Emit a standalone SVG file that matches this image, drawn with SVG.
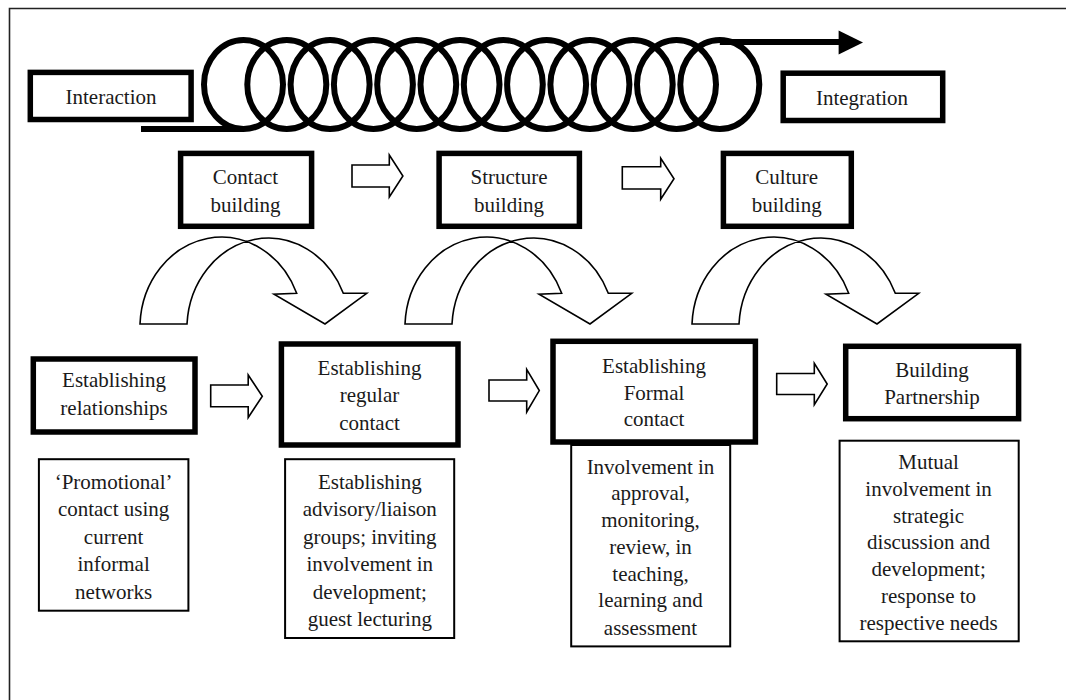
<svg xmlns="http://www.w3.org/2000/svg" xmlns:xlink="http://www.w3.org/1999/xlink" width="1066" height="700" viewBox="0 0 1066 700">
<style>
text{font-family:"Liberation Serif","Times New Roman",serif;font-size:21px;fill:#1a1a1a;text-anchor:middle}
.thick{fill:#fff;stroke:#000;stroke-width:5.5}
.thin{fill:#fff;stroke:#000;stroke-width:2}
.hollow{fill:#fff;stroke:#000;stroke-width:1.6;stroke-linejoin:miter}
.coil{fill:none;stroke:#000;stroke-width:6}
</style>
<defs>
<path id="curv" d="M140,324 L187,324 A81.5,91 0 0 1 343.3,293.3 L366.7,293.3 L325,324 L274,294.3 L296.7,293.3 A81.5,91 0 0 0 140,324 Z"/>
</defs>
<rect x="0" y="0" width="1066" height="700" fill="#fff"/>
<path d="M9.5,700 V8.5 H1066" fill="none" stroke="#222" stroke-width="1.6"/>

<g id="connectors">
  <g id="coil">
    <line x1="141" y1="129" x2="243.5" y2="129" class="coil"/>
    <ellipse cx="243.5" cy="84.5" rx="39.5" ry="44.5" class="coil"/>
    <ellipse cx="286.8" cy="84.5" rx="39.5" ry="44.5" class="coil"/>
    <ellipse cx="330.1" cy="84.5" rx="39.5" ry="44.5" class="coil"/>
    <ellipse cx="373.4" cy="84.5" rx="39.5" ry="44.5" class="coil"/>
    <ellipse cx="416.7" cy="84.5" rx="39.5" ry="44.5" class="coil"/>
    <ellipse cx="460" cy="84.5" rx="39.5" ry="44.5" class="coil"/>
    <ellipse cx="503.3" cy="84.5" rx="39.5" ry="44.5" class="coil"/>
    <ellipse cx="546.6" cy="84.5" rx="39.5" ry="44.5" class="coil"/>
    <ellipse cx="589.9" cy="84.5" rx="39.5" ry="44.5" class="coil"/>
    <ellipse cx="633.2" cy="84.5" rx="39.5" ry="44.5" class="coil"/>
    <ellipse cx="676.5" cy="84.5" rx="39.5" ry="44.5" class="coil"/>
    <ellipse cx="719.8" cy="84.5" rx="39.5" ry="44.5" class="coil"/>
    <line x1="719.8" y1="42" x2="840" y2="42" class="coil"/>
    <polygon points="838.6,30.5 863,42.5 838.6,54.5" fill="#000"/>
  </g>
  <path class="hollow" d="M352,165 H389.3 V155 L402.9,176 L389.3,197 V187 H352 Z"/>
  <path class="hollow" d="M622.3,166.7 H660.7 V158.3 L674,178.8 L660.7,199.3 V189 H622.3 Z"/>
  <use xlink:href="#curv" class="hollow"/>
  <use xlink:href="#curv" class="hollow" transform="translate(265,0)"/>
  <use xlink:href="#curv" class="hollow" transform="translate(552,0)"/>
  <path class="hollow" d="M210.7,385 H248.2 V375 L262.3,396.2 L248.2,417.5 V406.8 H210.7 Z"/>
  <path class="hollow" d="M489,380 H526.7 V369.3 L539.3,390.6 L526.7,412 V401 H489 Z"/>
  <path class="hollow" d="M776.7,373.5 H814.3 V363.3 L827.2,384 L814.3,404.6 V394.5 H776.7 Z"/>
</g>

<g id="interaction">
  <rect class="thick" x="30.3" y="72.4" width="160.8" height="47.1"/>
  <text x="111" y="104">Interaction</text>
</g>
<g id="integration">
  <rect class="thick" x="783.2" y="73.2" width="159.5" height="47.3"/>
  <text x="862" y="105">Integration</text>
</g>

<g id="contact-building">
  <rect class="thick" x="180.6" y="153.4" width="131" height="72.9"/>
  <text x="245.5" y="184">Contact</text>
  <text x="245.5" y="211.7">building</text>
</g>
<g id="structure-building">
  <rect class="thick" x="439.1" y="153.4" width="140.3" height="72.9"/>
  <text x="509" y="184">Structure</text>
  <text x="509" y="211.7">building</text>
</g>
<g id="culture-building">
  <rect class="thick" x="723.4" y="153.4" width="127.9" height="72.9"/>
  <text x="786.7" y="184">Culture</text>
  <text x="786.7" y="211.7">building</text>
</g>

<g id="establishing-relationships">
  <rect class="thick" x="33.3" y="359" width="161.7" height="73"/>
  <text x="114" y="387">Establishing</text>
  <text x="114" y="414.5">relationships</text>
</g>
<g id="establishing-regular-contact">
  <rect class="thick" x="281.4" y="344" width="176.6" height="101"/>
  <text x="369.5" y="375">Establishing</text>
  <text x="369.5" y="402.4">regular</text>
  <text x="369.5" y="430">contact</text>
</g>
<g id="establishing-formal-contact">
  <rect class="thick" x="553" y="341.3" width="202.4" height="100.7"/>
  <text x="654" y="373">Establishing</text>
  <text x="654" y="399.8">Formal</text>
  <text x="654" y="426">contact</text>
</g>
<g id="building-partnership">
  <rect class="thick" x="845.7" y="346.3" width="172.9" height="72.4"/>
  <text x="932" y="377">Building</text>
  <text x="932" y="404">Partnership</text>
</g>

<g id="promotional">
  <rect class="thin" x="38.9" y="459.2" width="149.5" height="151.5"/>
  <text x="113.6" y="488.5">‘Promotional’</text>
  <text x="113.6" y="516">contact using</text>
  <text x="113.6" y="543.6">current</text>
  <text x="113.6" y="571.1">informal</text>
  <text x="113.6" y="598.7">networks</text>
</g>
<g id="advisory">
  <rect class="thin" x="285.1" y="459.2" width="169.1" height="178.8"/>
  <text x="369.8" y="488.5">Establishing</text>
  <text x="369.8" y="516">advisory/liaison</text>
  <text x="369.8" y="543.6">groups; inviting</text>
  <text x="369.8" y="571.1">involvement in</text>
  <text x="369.8" y="598.7">development;</text>
  <text x="369.8" y="626.2">guest lecturing</text>
</g>
<g id="involvement">
  <rect class="thin" x="571.2" y="445" width="159" height="201.4"/>
  <text x="650.5" y="473.9">Involvement in</text>
  <text x="650.5" y="500.1">approval,</text>
  <text x="650.5" y="526.9">monitoring,</text>
  <text x="650.5" y="553.8">review, in</text>
  <text x="650.5" y="580.6">teaching,</text>
  <text x="650.5" y="607.4">learning and</text>
  <text x="650.5" y="635">assessment</text>
</g>
<g id="mutual">
  <rect class="thin" x="839.6" y="440.7" width="179.1" height="200.6"/>
  <text x="928.6" y="468.9">Mutual</text>
  <text x="928.6" y="495.7">involvement in</text>
  <text x="928.6" y="522.6">strategic</text>
  <text x="928.6" y="549.4">discussion and</text>
  <text x="928.6" y="576.2">development;</text>
  <text x="928.6" y="603.1">response to</text>
  <text x="928.6" y="629.9">respective needs</text>
</g>
</svg>
